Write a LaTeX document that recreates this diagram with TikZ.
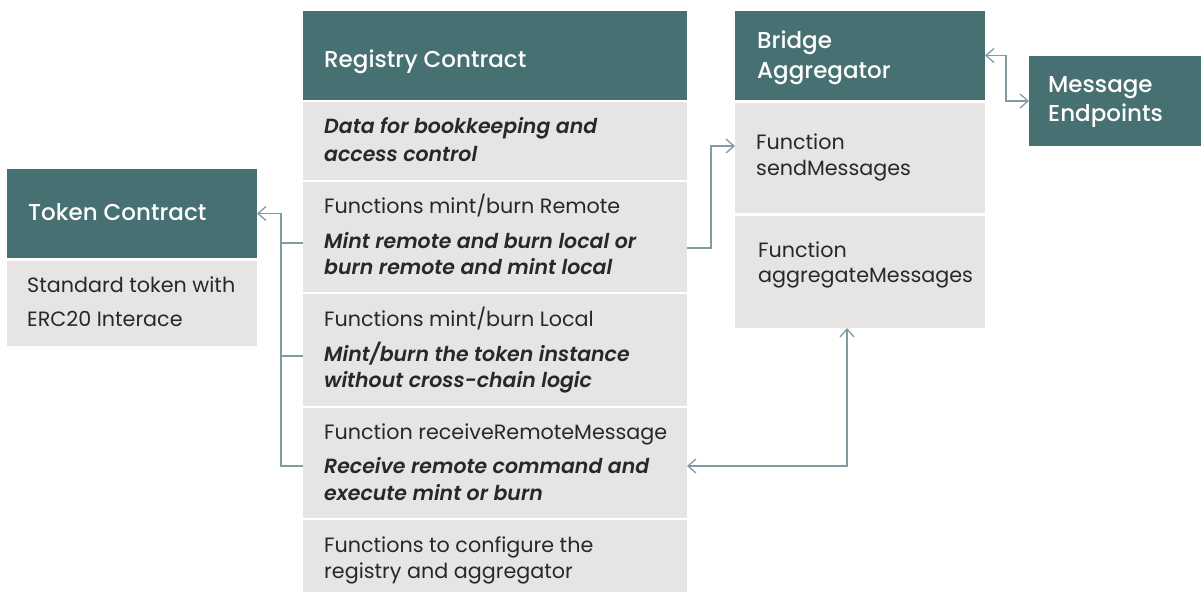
\documentclass[tikz,border=0pt]{standalone}
\usepackage{fontspec}
\setmainfont{Poppins}
\newfontfamily\headfont{Poppins}[UprightFont={* Medium}]
\newfontfamily\emphfont{Poppins}[UprightFont={* SemiBold Italic}]
\usetikzlibrary{arrows.meta}
\definecolor{headfill}{RGB}{71,112,115}
\definecolor{cellfill}{RGB}{230,229,227}
\definecolor{bodytext}{RGB}{40,40,40}
\definecolor{wire}{RGB}{125,157,161}
\begin{document}
\begin{tikzpicture}[x=1pt,y=-1pt,
  headbox/.style={anchor=north west,fill=headfill,inner sep=0pt,outer sep=0pt,draw=none},
  cellbox/.style={anchor=north west,fill=cellfill,inner sep=0pt,outer sep=0pt,draw=none},
  headtxt/.style={anchor=base west,inner sep=0pt,text=white,font=\headfont\fontsize{23}{28}\selectfont},
  plaintxt/.style={anchor=base west,inner sep=0pt,text=bodytext,font=\fontsize{20.7}{25}\selectfont},
  emtxt/.style={anchor=base west,inner sep=0pt,text=bodytext,font=\emphfont\fontsize{20.5}{25}\selectfont},
  barb/.tip={Straight Barb[length=8pt,width=14pt,line width=1.3pt]},
  wireline/.style={draw=wire,line width=1.4pt}]
\useasboundingbox (0,0) rectangle (1202,592);

% Registry Contract column
\node[headbox,minimum width=384,minimum height=89] (reg) at (303,11) {};
\node[cellbox,minimum width=384,minimum height=78] (regdata) at (303,102) {};
\node[cellbox,minimum width=384,minimum height=110] (regremote) at (303,182) {};
\node[cellbox,minimum width=384,minimum height=112] (reglocal) at (303,294) {};
\node[cellbox,minimum width=384,minimum height=110] (regrecv) at (303,408) {};
\node[cellbox,minimum width=384,minimum height=72] (regcfg) at (303,520) {};

\node[headtxt] (regT) at (324,67) {Registry Contract};
\node[emtxt] (dataA) at (324,133) {Data for bookkeeping and};
\node[emtxt] (dataB) at (324,161) {access control};
\node[plaintxt] (remT) at (324,213) {Functions mint/burn Remote};
\node[emtxt] (remA) at (324,248) {Mint remote and burn local or};
\node[emtxt] (remB) at (324,274) {burn remote and mint local};
\node[plaintxt] (locT) at (324,326) {Functions mint/burn Local};
\node[emtxt] (locA) at (324,361) {Mint/burn the token instance};
\node[emtxt] (locB) at (324,387) {without cross-chain logic};
\node[plaintxt] (rcvT) at (324,439) {Function receiveRemoteMessage};
\node[emtxt] (rcvA) at (324,473) {Receive remote command and};
\node[emtxt] (rcvB) at (324,500) {execute mint or burn};
\node[plaintxt] (cfgA) at (324,552) {Functions to configure the};
\node[plaintxt] (cfgB) at (324,578) {registry and aggregator};

% Token Contract
\node[headbox,minimum width=250,minimum height=89] (tok) at (7,169) {};
\node[cellbox,minimum width=250,minimum height=85] (tokbody) at (7,261) {};
\node[headtxt] (tokT) at (28,220) {Token Contract};
\node[plaintxt] (tokA) at (27,292) {Standard token with};
\node[plaintxt] (tokB) at (27,326) {ERC20 Interace};

% Bridge Aggregator
\node[headbox,minimum width=250,minimum height=89] (brg) at (735,11) {};
\node[cellbox,minimum width=250,minimum height=110] (brgsend) at (735,103) {};
\node[cellbox,minimum width=250,minimum height=112] (brgagg) at (735,216) {};
\node[headtxt] (brgA) at (757,48) {Bridge};
\node[headtxt] (brgB) at (757,78) {Aggregator};
\node[plaintxt] (sndA) at (756,149) {Function};
\node[plaintxt] (sndB) at (756,175) {sendMessages};
\node[plaintxt] (aggA) at (758,257) {Function};
\node[plaintxt] (aggB) at (758,282) {aggregateMessages};

% Message Endpoints
\node[headbox,minimum width=172,minimum height=90] (msg) at (1029,56) {};
\node[headtxt] (msgA) at (1048,92) {Message};
\node[headtxt] (msgB) at (1048,121) {Endpoints};

% Connectors
\draw[wireline,-barb] ([yshift=-3pt]regrecv.west) -- ++(-22,0) |- (tok.east);
\draw[wireline] ([yshift=-6pt]regremote.west) -- ++(-22,0);
\draw[wireline] ([yshift=-6pt]reglocal.west) -- ++(-22,0);
\draw[wireline,-barb] ([yshift=-11pt]regremote.east) -- ++(24,0) |- ([yshift=12pt]brgsend.west);
\draw[wireline,barb-barb] (brg.east) -- ++(21,0) |- (msg.west);
\draw[wireline,barb-barb] ([xshift=-13pt]brgagg.south) |- ([yshift=-3pt]regrecv.east);
\end{tikzpicture}
\end{document}
